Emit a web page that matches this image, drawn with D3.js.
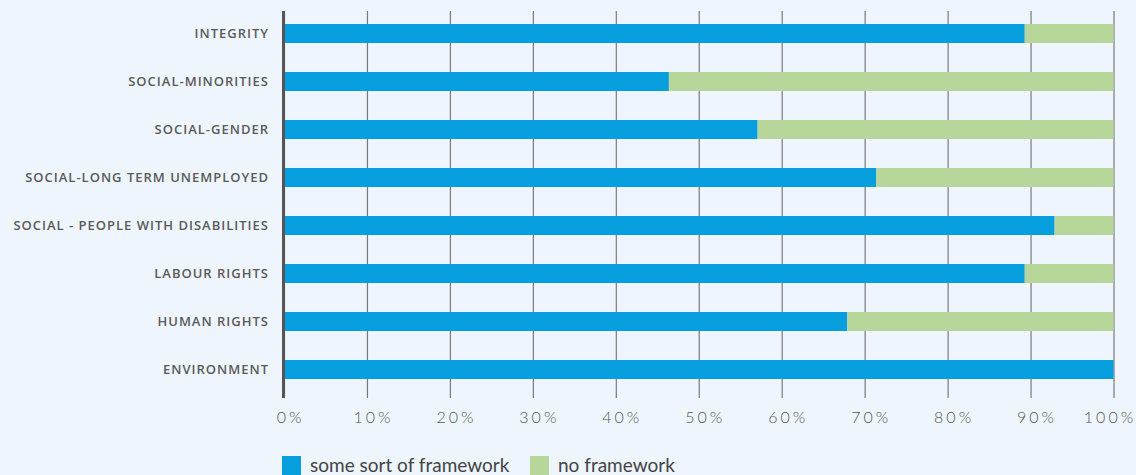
<!DOCTYPE html>
<html>
<head>
<meta charset="utf-8">
<script src="https://cdn.jsdelivr.net/npm/d3@7"></script>
<style>
  html, body { margin: 0; padding: 0; background: #eef5fc; }
  svg { display: block; }
  .cat text { font-family: "Open Sans", sans-serif; font-size: 13px; fill: #5a5a5a; font-weight: 600; letter-spacing: 1px; }
  .x-axis text { font-family: Lato, sans-serif; font-weight: 300; font-size: 16px; fill: #555; letter-spacing: 3px; }
  .legend text { font-family: Lato, sans-serif; font-size: 19px; fill: #444; }
</style>
</head>
<body>
<script>
// DATA
const CATEGORIES = ['INTEGRITY', 'SOCIAL-MINORITIES', 'SOCIAL-GENDER', 'SOCIAL-LONG TERM UNEMPLOYED',
  'SOCIAL - PEOPLE WITH DISABILITIES', 'LABOUR RIGHTS', 'HUMAN RIGHTS', 'ENVIRONMENT'];
const SOME_FRAMEWORK = [89.3, 46.4, 57.1, 71.4, 92.9, 89.3, 67.9, 100];
const NO_FRAMEWORK = [10.7, 53.6, 42.9, 28.6, 7.1, 10.7, 32.1, 0];
const X_TICKS = [0, 10, 20, 30, 40, 50, 60, 70, 80, 90, 100];
const SERIES = ['some sort of framework', 'no framework'];
const COLORS = ['#069edc', '#b7d69a'];

// CONSTANTS
const WIDTH = 1136;
const HEIGHT = 475;
const LEFT = 284;
const RIGHT = 1113.5;
const TOP = 11;
const BOTTOM = 398;

const svg = d3.select('body').append('svg')
  .attr('width', WIDTH)
  .attr('height', HEIGHT);

const X_SCALE = d3.scaleLinear().domain([0, 100]).range([LEFT, RIGHT]);
const Y_SCALE = d3.scaleBand()
  .domain(CATEGORIES)
  .range([9.5, 393.5])
  .paddingInner(0.604)
  .paddingOuter(0.302);

// GRID + X AXIS
const xAxis = svg.append('g')
  .attr('class', 'x-axis')
  .attr('transform', 'translate(0,' + BOTTOM + ')')
  .call(d3.axisBottom(X_SCALE)
    .tickValues(X_TICKS)
    .tickFormat(d => d + '%')
    .tickSizeInner(-(BOTTOM - TOP))
    .tickSizeOuter(0)
    .tickPadding(14));
xAxis.select('.domain').remove();
xAxis.selectAll('line').attr('stroke', '#7a7a7a').attr('stroke-width', 1.2);
xAxis.selectAll('text')
  .attr('dx', d => d == 100 ? -4 : 6);

// BARS
const rows = CATEGORIES.map((c, i) => ({ cat: c, some: SOME_FRAMEWORK[i], none: NO_FRAMEWORK[i] }));
const stack = d3.stack().keys(['some', 'none'])(rows);

svg.append('g').selectAll('g')
  .data(stack)
  .enter().append('g')
  .attr('fill', (d, i) => COLORS[i])
  .selectAll('rect')
  .data(d => d)
  .enter().append('rect')
  .attr('x', d => X_SCALE(d[0]))
  .attr('y', d => Y_SCALE(d.data.cat))
  .attr('width', d => X_SCALE(d[1]) - X_SCALE(d[0]))
  .attr('height', Y_SCALE.bandwidth());

// ZERO LINE
svg.append('line')
  .attr('x1', X_SCALE(0) - 0.5).attr('x2', X_SCALE(0) - 0.5)
  .attr('y1', TOP).attr('y2', BOTTOM)
  .attr('stroke', '#555')
  .attr('stroke-width', 3);

// CATEGORY LABELS
svg.append('g')
  .attr('class', 'cat')
  .selectAll('text')
  .data(CATEGORIES)
  .enter().append('text')
  .attr('x', 269)
  .attr('y', d => Y_SCALE(d) + Y_SCALE.bandwidth() / 2)
  .attr('dy', '0.36em')
  .attr('text-anchor', 'end')
  .text(d => d);

// LEGEND
const legend = svg.append('g')
  .attr('class', 'legend')
  .selectAll('g')
  .data(SERIES)
  .enter().append('g')
  .attr('transform', (d, i) => 'translate(' + [282, 530][i] + ',456)');

legend.append('rect')
  .attr('width', 19)
  .attr('height', 19)
  .attr('fill', (d, i) => COLORS[i]);

legend.append('text')
  .attr('x', 28)
  .attr('y', 16)
  .text(d => d);
</script>
</body>
</html>
